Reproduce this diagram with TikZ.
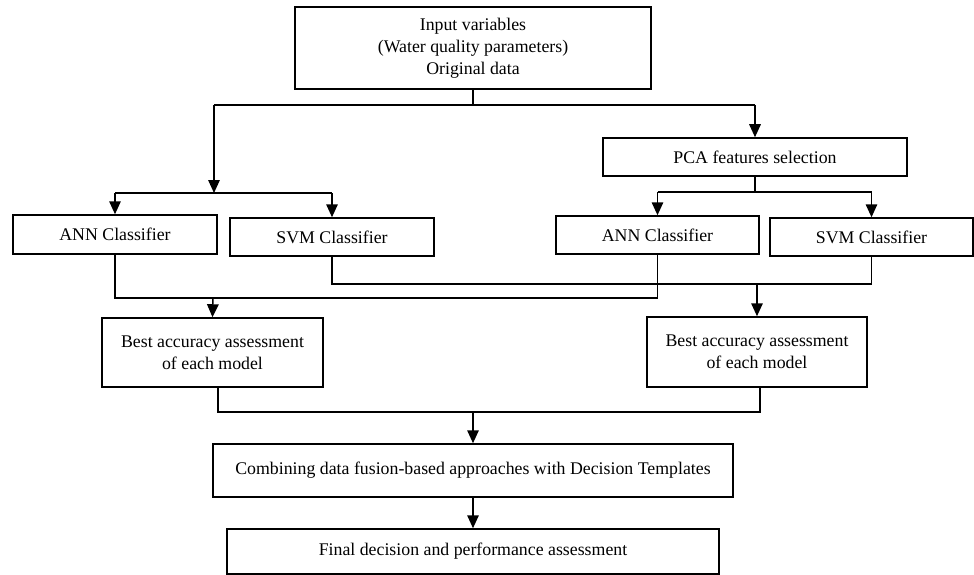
\documentclass[tikz,border=0pt]{standalone}
\usepackage{fontspec}
\setmainfont{Liberation Serif}
\usetikzlibrary{arrows.meta}
\tikzset{
  box/.style={draw, line width=1.5pt, rectangle, inner sep=0pt, align=center,
    font=\fontsize{17.8}{22}\selectfont},
  conn/.style={line width=1.5pt},
  arr/.style={line width=1.5pt, -{Triangle[length=13pt,width=11.5pt]}}
}
\begin{document}
\begin{tikzpicture}[x=1pt,y=-1pt]
\useasboundingbox (0,0) rectangle (974,575);
% boxes
\node[box, minimum width=356pt, minimum height=82pt] (top) at (473,48)
  {Input variables\\(Water quality parameters)\\Original data};
\node[box, minimum width=304pt, minimum height=38pt] (pca) at (755,157) {PCA features selection};
\node[box, minimum width=204pt, minimum height=39pt] (annL) at (115,234.5) {ANN Classifier};
\node[box, minimum width=204pt, minimum height=38pt] (svmL) at (332,237) {SVM Classifier};
\node[box, minimum width=203pt, minimum height=38pt] (annR) at (657.5,235) {ANN Classifier};
\node[box, minimum width=203pt, minimum height=38pt] (svmR) at (871.5,237) {SVM Classifier};
\node[box, minimum width=221pt, minimum height=69pt] (bestL) at (212.5,352.5)
  {Best accuracy assessment\\of each model};
\node[box, minimum width=220pt, minimum height=70pt] (bestR) at (757,352)
  {Best accuracy assessment\\of each model};
\node[box, minimum width=520pt, minimum height=53pt] (comb) at (473,470.5)
  {Combining data fusion-based approaches with Decision Templates};
\node[box, minimum width=492pt, minimum height=45pt] (final) at (473,551.5)
  {Final decision and performance assessment};
% junction coordinates
\coordinate (j1) at (473,105);
\coordinate (j1L) at (214,105);
\coordinate (j1R) at (755,105);
\coordinate (j2) at (214,193);
\coordinate (j2L) at (115,193);
\coordinate (j2R) at (332,193);
\coordinate (j3) at (755,192);
\coordinate (j3L) at (657.5,192);
\coordinate (j3R) at (871.5,192);
\coordinate (k1L) at (115,298);
\coordinate (k1R) at (657.5,298);
\coordinate (k1) at (213,298);
\coordinate (k2L) at (332,284);
\coordinate (k2R) at (871.5,284);
\coordinate (k2) at (757,284);
\coordinate (bLs) at (218,387);
\coordinate (m1L) at (218,412);
\coordinate (bRs) at (760,387);
\coordinate (m1R) at (760,412);
\coordinate (m1) at (473,412);
% connectors
\draw[conn] (top.south) -- (j1);
\draw[conn] (j1L) -- (j1R);
\draw[arr] (j1L) -- (j2);
\draw[arr] (j1R) -- (pca.north);
\draw[conn] (j2L) -- (j2R);
\draw[arr] (j2L) -- (annL.north);
\draw[arr] (j2R) -- (svmL.north);
\draw[conn] (pca.south) -- (j3);
\draw[conn] (j3L) -- (j3R);
\draw[arr] (j3L) -- (annR.north);
\draw[arr] (j3R) -- (svmR.north);
\draw[conn] (annL.south) -- (k1L) -- (k1R) -- (annR.south);
\draw[arr] (k1) -- (bestL.north);
\draw[conn] (svmL.south) -- (k2L) -- (k2R) -- (svmR.south);
\draw[arr] (k2) -- (bestR.north);
\draw[conn] (bLs) -- (m1L) -- (m1R) -- (bRs);
\draw[arr] (m1) -- (comb.north);
\draw[arr] (comb.south) -- (final.north);
\end{tikzpicture}
\end{document}
